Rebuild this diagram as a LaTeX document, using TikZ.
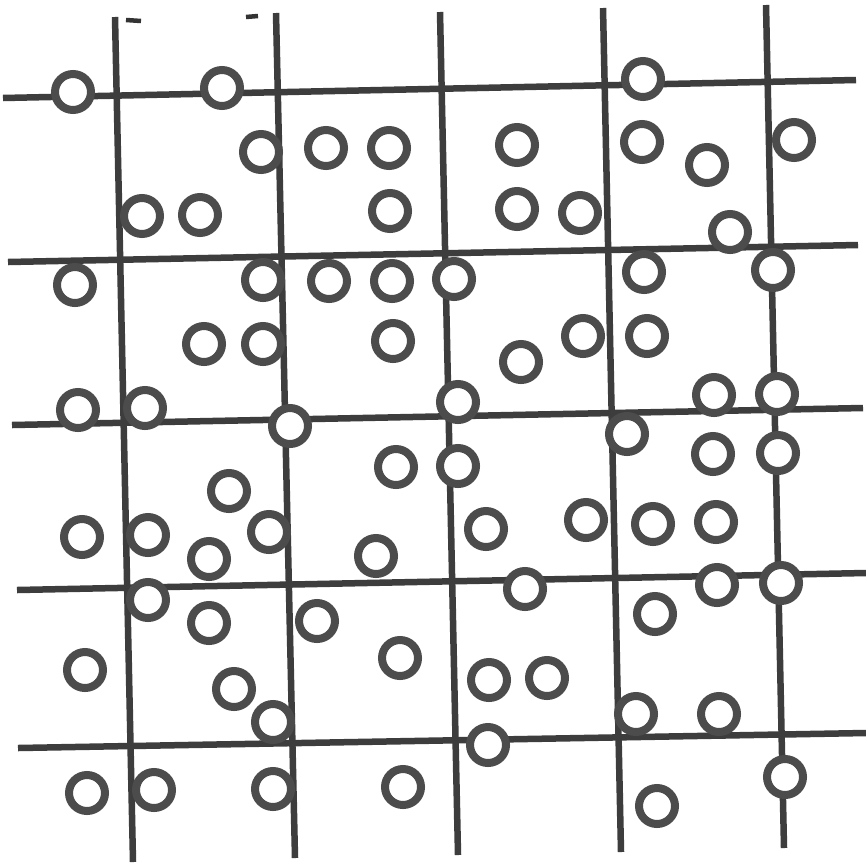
\documentclass[tikz,border=0pt]{standalone}
\begin{document}
\begin{tikzpicture}[x=1pt,y=-1pt,
  gridline/.style={line width=6.5pt,draw=black!76},
  ring/.style={line width=8pt,draw=black!70,fill=white},
  tick/.style={line width=4.5pt,draw=black!80}]
\useasboundingbox[fill=white] (0,0) rectangle (866,865);
% vertical lines
\draw[gridline] (115,17) -- (133,862);
\draw[gridline] (276,13) -- (295,858);
\draw[gridline] (440,12) -- (458,855);
\draw[gridline] (603,8) -- (621,852);
\draw[gridline] (766,5) -- (784,848);
% horizontal lines
\draw[gridline] (3,98) -- (856,80);
\draw[gridline] (8,262) -- (858,245);
\draw[gridline] (12,425) -- (863,408);
\draw[gridline] (17,590) -- (866,573);
\draw[gridline] (18,748) -- (866,733);
% small marks at the top
\draw[tick] (126,20) -- (141,21);
\draw[tick] (246,17) -- (258,16);
% circles
\foreach \x/\y in {
  73/92, 222/88, 643/79,
  261/152, 326/148, 389/148, 517/145, 642/142, 707/165, 794/140,
  142/216, 200/215, 390/211, 517/209, 580/213, 730/232,
  75/285, 263/280, 329/281, 392/281, 454/279, 644/272, 773/270,
  204/344, 263/344, 393/341, 521/362, 583/336, 647/336,
  78/410, 145/408, 290/426, 458/402, 714/395, 777/394,
  627/434,
  396/467, 458/466, 713/454, 778/453,
  229/491,
  82/537, 148/535, 269/532, 486/529, 586/520, 653/524, 716/522,
  209/559, 376/556,
  148/600, 525/589, 717/585, 781/583,
  209/623, 317/621, 655/614,
  85/670, 400/658, 489/680, 547/678,
  234/689,
  273/722, 636/714, 719/714,
  488/745,
  87/793, 154/790, 273/789, 403/787, 657/806, 785/777}
  \draw[ring] (\x,\y) circle[radius=18];
\end{tikzpicture}
\end{document}
